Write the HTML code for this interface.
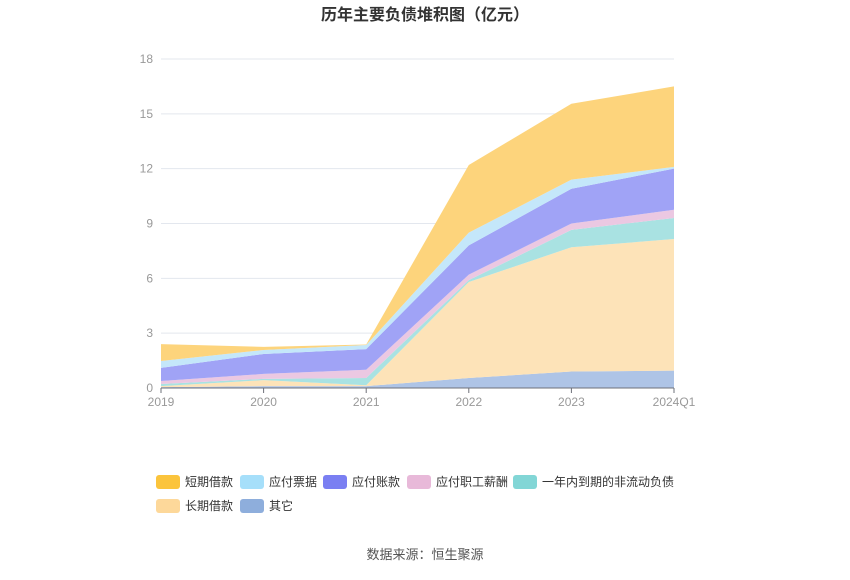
<!DOCTYPE html>
<html><head><meta charset="utf-8">
<style>
body{margin:0;background:#fff;font-family:"Liberation Sans","Noto Sans CJK SC",sans-serif;}
svg text{font-family:"Liberation Sans","Noto Sans CJK SC",sans-serif;}
</style></head>
<body>
<svg width="850" height="575">
<text x="425" y="20" text-anchor="middle" font-size="16" font-weight="bold" fill="#333">历年主要负债堆积图（亿元）</text>
<g id="grid"></g>
<g id="areas"></g>
<g id="axes"></g>
<g id="legend"></g>
<text x="425" y="559" text-anchor="middle" font-size="13" fill="#555">数据来源：恒生聚源</text>
</svg>
<script>
const categories=["2019","2020","2021","2022","2023","2024Q1"];
const yTicks=[0,3,6,9,12,15,18];
const seriesNames=["其它","长期借款","一年内到期的非流动负债","应付职工薪酬","应付账款","应付票据","短期借款"];
const other=[0.05,0.1,0.1,0.55,0.9,0.95];
const longLoan=[0.05,0.33,0.05,5.25,6.8,7.2];
const currentNonCurrent=[0.12,0.07,0.4,0.1,0.95,1.15];
const payroll=[0.16,0.27,0.45,0.3,0.35,0.45];
const accountsPayable=[0.72,1.09,1.13,1.6,1.9,2.25];
const notesPayable=[0.38,0.22,0.22,0.7,0.5,0.1];
const shortLoan=[0.92,0.17,0.03,3.7,4.15,4.4];
const seriesData=[other,longLoan,currentNonCurrent,payroll,accountsPayable,notesPayable,shortLoan];
const fills=["#aec4e6","#fde3b8","#a9e2e2","#ebc8e2","#a0a3f6","#c4e7fa","#fdd47c"];
const legendColors=["#8eaedc","#fdd89a","#82d6d6","#e8b9d9","#7a7ff2","#a6dffa","#fbc43c"];
const slugs=["other","long-term-loan","current-noncurrent-liab","payroll","accounts-payable","notes-payable","short-term-loan"];
const NS="http://www.w3.org/2000/svg";
const x0=161,x1=674,yBase=388,yTop=59,yMax=18;
const xs=i=>x0+i*(x1-x0)/(categories.length-1);
const ys=v=>yBase-v*(yBase-yTop)/yMax;
function mk(t,a,p){const e=document.createElementNS(NS,t);for(const k in a)e.setAttribute(k,a[k]);p.appendChild(e);return e;}
const grid=document.getElementById('grid'),axes=document.getElementById('axes'),areas=document.getElementById('areas'),legend=document.getElementById('legend');
yTicks.forEach(t=>{
 if(t>0){const l=mk('line',{x1:x0,x2:x1,y1:ys(t),y2:ys(t),stroke:'#e3e7ee'},grid);
 
 }
 const tx=mk('text',{x:153,y:ys(t)+4,'text-anchor':'end','font-size':12,fill:'#999'},axes);tx.textContent=t;
 
 
});
let cum=categories.map(()=>0);
seriesData.forEach((s,si)=>{
 const lower=cum.slice();const upper=cum.map((c,i)=>c+s[i]);
 let d='';upper.forEach((v,i)=>{d+=(i?'L':'M')+xs(i)+','+ys(v);});
 for(let i=lower.length-1;i>=0;i--)d+='L'+xs(i)+','+ys(lower[i]);
 const p=mk('path',{d:d+'Z',fill:fills[si],stroke:'none'},areas);
 
 
 cum=upper;
});
const ax=mk('line',{x1:x0,x2:x1,y1:yBase,y2:yBase,stroke:'#6e7079'},axes);


categories.forEach((c,i)=>{
 const tk=mk('line',{x1:xs(i),x2:xs(i),y1:yBase,y2:yBase+5,stroke:'#6e7079'},axes);
 
 
 const t=mk('text',{x:xs(i),y:406,'text-anchor':'middle','font-size':12,fill:'#999'},axes);t.textContent=c;
 
 
});
const legOrder=[6,5,4,3,2,1,0];
const legPos=[[156,482],[240,482],[323,482],[407,482],[513,482],[156,506],[240,506]];
legOrder.forEach((si,k)=>{
 const [lx,ly]=legPos[k];
 const g=mk('g',{},legend);
 
 
 mk('rect',{x:lx,y:ly-7,width:24,height:14,rx:3,fill:legendColors[si]},g);
 const t=mk('text',{x:lx+29,y:ly+4,'font-size':12,fill:'#333'},g);t.textContent=seriesNames[si];
});
</script>
</body></html>
